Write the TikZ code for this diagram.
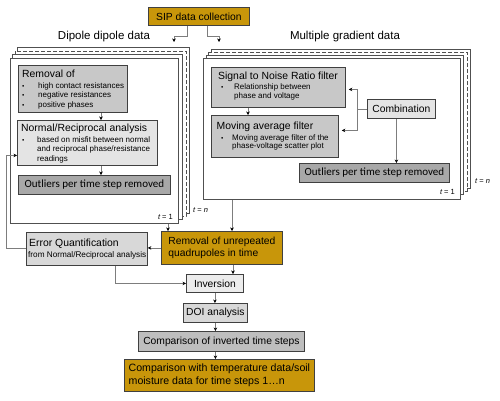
\documentclass[tikz,border=0pt]{standalone}
\usepackage{fontspec}
\setmainfont{Liberation Sans}
\newfontfamily\carl{Carlito}
\usetikzlibrary{arrows.meta}
\definecolor{gold}{RGB}{200,150,10}
\definecolor{gA}{RGB}{200,200,200}
\definecolor{gB}{RGB}{228,228,228}
\definecolor{gC}{RGB}{168,168,168}
\definecolor{gD}{RGB}{236,236,236}
\definecolor{gE}{RGB}{216,216,216}
\definecolor{gF}{RGB}{190,190,190}
\definecolor{edgec}{RGB}{64,64,64}
\definecolor{framec}{RGB}{80,80,80}
\definecolor{connc}{RGB}{125,125,125}
\tikzset{
  bx/.style={draw=edgec, line width=0.8pt, inner sep=0pt, anchor=north west},
  frm/.style={draw=framec, fill=white, line width=0.8pt},
  frmnode/.style={frm, inner sep=0pt, anchor=north west},
  dsh/.style={dash pattern=on 4pt off 2pt},
  conn/.style={draw=connc, line width=0.6pt, -{Stealth[length=3.5pt,width=3.5pt,black]}},
  plain/.style={draw=connc, line width=0.6pt},
  ttl/.style={font=\fontsize{10.4}{12}\selectfont, inner sep=0pt, anchor=base west},
  bul/.style={font=\fontsize{8}{9}\selectfont, inner sep=0pt, anchor=base west},
  dot/.style={font=\fontsize{6.5}{8}\selectfont, inner sep=0pt, anchor=base west},
  big/.style={font=\fontsize{11.5}{13}\selectfont, inner sep=0pt},
  tl/.style={font=\fontsize{7.5}{9}\selectfont, inner sep=0pt},
  mid/.style={font=\fontsize{10.3}{12}\selectfont},
  outl/.style={font=\carl\fontsize{11}{13}\selectfont},
}
\begin{document}
\begin{tikzpicture}[x=1pt,y=-1pt]
\useasboundingbox (0,0) rectangle (500,400);
\fill[white] (0,0) rectangle (500,400);

% top
\node[bx, fill=gold, minimum width=101pt, minimum height=18pt, mid] (sip) at (148,7) {SIP data collection};
\coordinate (ddin) at (174,42);
\coordinate (mgin) at (219,42);
\draw[conn] ([xshift=-12pt]sip.south) -- ++(0,10) -| (ddin);
\draw[conn] ([xshift=8.5pt]sip.south) -- ++(0,10) -| (mgin);

\node[big] (ddt) at (104,37) {Dipole dipole data};
\node[big] (mgt) at (345,37) {Multiple gradient data};

% left stack
\draw[frm] (17.5,47) rectangle (189,213);
\draw[frm, dsh] (15,51) rectangle (186,216);
\draw[frm] (12.5,54) rectangle (182,219);
\node[frmnode, minimum width=168pt, minimum height=165pt] (ddf) at (10,58) {};
\node[tl, anchor=base east] (ddt1) at (173,219) {\itshape t\upshape\ = 1};
\node[tl, anchor=base west] (ddtn) at (193,212) {\itshape t\upshape\ = \itshape n};

\node[bx, fill=gA, minimum width=109pt, minimum height=47pt] (rem) at (18,65) {};
\node[ttl] (remt) at (22,77) {Removal of};
\node[dot] (remd1) at (22,88) {•};
\node[dot] (remd2) at (22,97.5) {•};
\node[dot] (remd3) at (22,107) {•};
\node[bul] (reml1) at (38,88) {high contact resistances};
\node[bul] (reml2) at (38,97.5) {negative resistances};
\node[bul] (reml3) at (38,107) {positive phases};

\node[bx, fill=gB, minimum width=140pt, minimum height=45pt] (nr) at (17,120) {};
\node[ttl] (nrt) at (21,131) {Normal/Reciprocal analysis};
\node[dot] (nrd1) at (22,142) {•};
\node[bul] (nrl1) at (37,142) {based on misfit between normal};
\node[bul] (nrl2) at (37,151.5) {and reciprocal phase/resistance};
\node[bul] (nrl3) at (37,161) {readings};

\node[bx, fill=gC, minimum width=152pt, minimum height=19pt, outl] (out1) at (18,175) {Outliers per time step removed};

\draw[conn] ([xshift=83pt]rem.south west) -- ([xshift=83pt]rem.south west |- nr.north);
\draw[conn] ([xshift=84pt]nr.south west) -- ([xshift=84pt]nr.south west |- out1.north);

% right stack
\draw[frm] (211,49) rectangle (470,188);
\draw[frm, dsh] (208,52) rectangle (467,191);
\draw[frm] (206,55) rectangle (463,194);
\node[frmnode, minimum width=257pt, minimum height=141pt] (mgf) at (203,58) {};
\node[tl, anchor=base east] (mgt1) at (455,194) {\itshape t\upshape\ = 1};
\node[tl, anchor=base west] (mgtn) at (475,183) {\itshape t\upshape\ = \itshape n};

\node[bx, fill=gA, minimum width=134pt, minimum height=40pt] (snr) at (211,67) {};
\node[ttl] (snrt) at (218,79) {Signal to Noise Ratio filter};
\node[dot] (snrd) at (221,89) {•};
\node[bul] (snrl1) at (234,89) {Relationship between};
\node[bul] (snrl2) at (234,98) {phase and voltage};

\node[bx, fill=gA, minimum width=127pt, minimum height=42pt] (mov) at (211,115) {};
\node[ttl] (movt) at (216.5,129) {Moving average filter};
\node[dot] (movd) at (221,140) {•};
\node[bul] (movl1) at (232,140) {Moving average filter of the};
\node[bul] (movl2) at (232,148.5) {phase-voltage scatter plot};

\node[bx, fill=gB, minimum width=68pt, minimum height=19pt, mid] (comb) at (367,99) {Combination};
\node[bx, fill=gC, minimum width=150pt, minimum height=19pt, outl] (out2) at (299,163) {Outliers per time step removed};

\draw[conn] ([xshift=37pt]snr.south west) -- ([xshift=37pt]snr.south west |- mov.north);
\coordinate (cj) at ([xshift=-10pt]comb.west);
\draw[plain] (comb.west) -- (cj);
\draw[conn] (cj) |- ([xshift=3pt,yshift=-2pt]snr.east);
\draw[conn] (cj) |- ([xshift=3pt,yshift=6pt]mov.east);
\draw[conn] ([xshift=-5pt]comb.south) -- ([xshift=-5pt]comb.south |- out2.north);

% lower part
\node[bx, fill=gold, minimum width=121pt, minimum height=33pt, mid, align=left] (rmu) at (161,231) {Removal of unrepeated\\quadrupoles in time};
\node[bx, fill=gE, minimum width=121pt, minimum height=33pt] (err) at (26,232) {};
\node[ttl] (errt) at (29,246) {Error Quantification};
\node[bul, font=\fontsize{8.2}{9}\selectfont] (errl) at (28,257.5) {from Normal/Reciprocal analysis};

\node[bx, fill=gD, minimum width=57pt, minimum height=18pt, mid] (inv) at (186,274) {Inversion};
\node[bx, fill=gE, minimum width=64pt, minimum height=19pt, mid] (doi) at (183,303) {DOI analysis};
\node[bx, fill=gF, minimum width=166pt, minimum height=20pt, mid] (cmp) at (138,331) {Comparison of inverted time steps};
\node[bx, fill=gold, minimum width=190pt, minimum height=32pt, font=\fontsize{10.6}{13}\selectfont, align=left] (fin) at (124,359) {Comparison with temperature data/soil\\moisture data for time steps 1…n};

\draw[conn] ([xshift=7pt]rmu.north west |- ddf.south) -- ([xshift=7pt]rmu.north west);
\draw[conn] ([xshift=71pt]rmu.north west |- mgf.south) -- ([xshift=71pt]rmu.north west);
\draw[conn] (rmu.west) -- (rmu.west -| err.east);
\draw[conn] ([yshift=1pt]err.west) -- ++(-20,0) |- ([yshift=-12.5pt]nr.west);
\draw[conn] ([xshift=89pt]err.south west) |- (inv.west);
\draw[conn] ([xshift=72pt]rmu.south west) -- ([xshift=72pt]rmu.south west |- inv.north);
\draw[conn] (inv.south) -- (inv.south |- doi.north);
\draw[conn] (doi.south) -- (doi.south |- cmp.north);
\draw[conn] (doi.south |- cmp.south) -- (doi.south |- fin.north);
\end{tikzpicture}
\end{document}
